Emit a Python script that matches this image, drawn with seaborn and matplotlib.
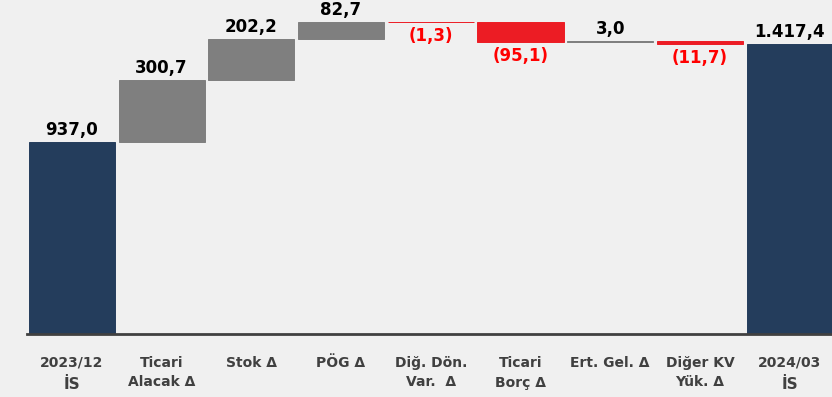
import matplotlib
matplotlib.use("Agg")
import matplotlib.pyplot as plt
import seaborn as sns
import pandas as pd
import numpy as np

# Working capital bridge, 2023/12 -> 2024/03 (million TL)
categories = ["2023/12", "Ticari\nAlacak Δ", "Stok Δ", "PÖG Δ", "Diğ. Dön.\nVar.  Δ",
              "Ticari\nBorç Δ", "Ert. Gel. Δ", "Diğer KV\nYük. Δ", "2024/03"]
sublabels = ["İS", "", "", "", "", "", "", "", "İS"]
values = [937.0, 300.7, 202.2, 82.7, -1.3, -95.1, 3.0, -11.7, 1417.4]
kinds = ["total", "change", "change", "change", "change", "change", "change", "change", "total"]

NAVY = "#243D5C"
GRAY = "#7F7F7F"
RED = "#EC1C24"
LABEL_RED = "#FF0000"
BG = "#F0F0F0"

# waterfall bases: totals start at zero, changes float on the running sum
bases, heights = [], []
running = 0.0
for v, k in zip(values, kinds):
    if k == "total":
        bases.append(0.0)
        heights.append(v)
        running = v
    else:
        lo = running + min(v, 0)
        bases.append(lo)
        heights.append(abs(v))
        running += v

colors = [NAVY if k == "total" else (GRAY if v >= 0 else RED) for v, k in zip(values, kinds)]
df = pd.DataFrame({"cat": categories, "height": heights})

sns.set_theme(style="white")
plt.rcParams["font.family"] = ["DejaVu Sans"]

fig = plt.figure(figsize=(8.32, 3.97), dpi=100, facecolor=BG)
W, H = 832, 397
ax = fig.add_axes([27 / W, 63 / H, (834.5 - 27) / W, 334 / H])
ax.set_facecolor(BG)

sns.barplot(data=df, x="cat", y="height", hue="cat", order=categories, hue_order=categories,
            palette=dict(zip(categories, colors)), width=0.96, legend=False,
            saturation=1, linewidth=0.7, ax=ax)

# lift each floating bar onto its base
for cont, b, c in zip(ax.containers, bases, colors):
    for p in cont:
        p.set_y(b)
        p.set_edgecolor(c)

ax.set_ylim(0, 1630)
ax.set_xlim(-0.5, len(categories) - 0.5)


def fmt(v):
    s = f"{abs(v):,.1f}".replace(",", "X").replace(".", ",").replace("X", ".")
    return f"({s})" if v < 0 else s


for i, (v, b, h) in enumerate(zip(values, bases, heights)):
    if v >= 0:
        ax.annotate(fmt(v), xy=(i, b + h), xytext=(0, 3), textcoords="offset pixels",
                    ha="center", va="bottom", fontsize=12, fontweight="bold", color="black")
    else:
        ax.annotate(fmt(v), xy=(i, b), xytext=(0, -5), textcoords="offset pixels",
                    ha="center", va="top", fontsize=12, fontweight="bold", color=LABEL_RED)

# category labels under the axis
ax.set_xticks(range(len(categories)))
ax.set_xticklabels([""] * len(categories))
ax.tick_params(axis="x", length=0)
ax.set_yticks([])
ax.set_xlabel("")
ax.set_ylabel("")
for i, (lab, sub) in enumerate(zip(categories, sublabels)):
    ax.annotate(lab, xy=(i, 0), xycoords=("data", "axes fraction"), xytext=(0, -22),
                textcoords="offset pixels", ha="center", va="top", fontsize=10,
                fontweight="bold", color="#404040", linespacing=1.5)
    if sub:
        ax.annotate(sub, xy=(i, 0), xycoords=("data", "axes fraction"), xytext=(0, -43),
                    textcoords="offset pixels", ha="center", va="top", fontsize=11,
                    fontweight="bold", color="#404040")

for s in ["top", "right", "left"]:
    ax.spines[s].set_visible(False)
ax.spines["bottom"].set_color("#404040")
ax.spines["bottom"].set_linewidth(2)

fig.savefig("out.png", dpi=100, facecolor=BG)
